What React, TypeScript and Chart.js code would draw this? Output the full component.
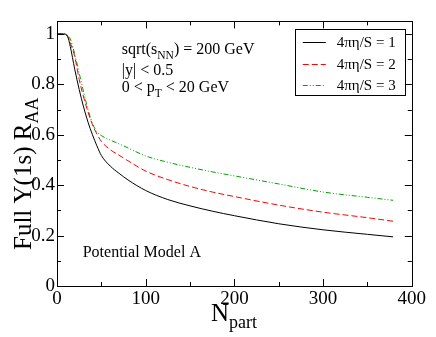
import React, { useEffect, useRef } from "react";
import { Chart, registerables } from "chart.js";

Chart.register(...registerables);

const nPart = [0, 5, 8, 12, 15, 20, 25, 30, 35, 40, 45, 50, 60, 70, 80, 100, 125, 150, 175, 200, 250, 300, 350, 379];
const raa1 = [1, 1, 1, 0.99, 0.95, 0.86, 0.78, 0.71, 0.65, 0.6, 0.556, 0.518, 0.476, 0.447, 0.421, 0.379, 0.343, 0.318, 0.297, 0.279, 0.247, 0.223, 0.205, 0.195];
const raa2 = [1, 1, 1, 0.99, 0.965, 0.91, 0.82, 0.75, 0.69, 0.64, 0.603, 0.574, 0.541, 0.519, 0.497, 0.456, 0.422, 0.395, 0.373, 0.355, 0.321, 0.293, 0.271, 0.257];
const raa3 = [1, 1, 1, 0.995, 0.98, 0.92, 0.845, 0.77, 0.7, 0.645, 0.612, 0.597, 0.579, 0.564, 0.548, 0.516, 0.491, 0.471, 0.453, 0.437, 0.405, 0.373, 0.352, 0.34];

const seriesLabels = ["4πη/S = 1", "4πη/S = 2", "4πη/S = 3"];
const xTicks = [0, 100, 200, 300, 400];
const yTicks = [0, 0.2, 0.4, 0.6, 0.8, 1];

// annotation text: segments [text, isSubscript], anchored at data coordinates
const annotations: { x: number; y: number; parts: [string, boolean][] }[] = [
  { x: 73, y: 0.919, parts: [["sqrt(s", false], ["NN", true], [") = 200 GeV", false]] },
  { x: 73, y: 0.836, parts: [["|y| < 0.5", false]] },
  { x: 73, y: 0.768, parts: [["0 < p", false], ["T", true], [" < 20 GeV", false]] },
  { x: 29, y: 0.115, parts: [["Potential Model A", false]] },
];

const FONT = "'Liberation Serif', 'Times New Roman', serif";

function drawRich(ctx: CanvasRenderingContext2D, x: number, y: number, parts: [string, boolean][], size: number) {
  let cx = x;
  ctx.textBaseline = "alphabetic";
  ctx.textAlign = "left";
  for (const [t, sub] of parts) {
    const s = sub ? size * 0.72 : size;
    ctx.font = `${s}px ${FONT}`;
    ctx.fillText(t, cx, sub ? y + size * 0.28 : y);
    cx += ctx.measureText(t).width;
  }
}

const framePlugin = {
  id: "frameTicks",
  afterDraw(chart: any) {
    const ctx: CanvasRenderingContext2D = chart.ctx;
    const { left, right, top, bottom } = chart.chartArea;
    const xs = chart.scales.x;
    const ys = chart.scales.y;
    ctx.save();
    ctx.strokeStyle = "#000";
    ctx.lineWidth = 1;
    ctx.setLineDash([]);
    ctx.strokeRect(Math.round(left) + 0.5, Math.round(top) + 0.5, Math.round(right - left), Math.round(bottom - top));
    ctx.beginPath();
    for (let v = 0; v <= 400; v += 50) {
      const px = Math.round(xs.getPixelForValue(v)) + 0.5;
      const len = v % 100 === 0 ? 7 : 4;
      ctx.moveTo(px, bottom);
      ctx.lineTo(px, bottom - len);
      ctx.moveTo(px, top);
      ctx.lineTo(px, top + len);
    }
    for (let i = 0; i <= 10; i++) {
      const v = i / 10;
      const py = Math.round(ys.getPixelForValue(v)) + 0.5;
      const len = i % 2 === 0 ? 7 : 4;
      ctx.moveTo(left, py);
      ctx.lineTo(left + len, py);
      ctx.moveTo(right, py);
      ctx.lineTo(right - len, py);
    }
    ctx.stroke();

    // annotations
    ctx.fillStyle = "#000";
    for (const a of annotations) {
      drawRich(ctx, xs.getPixelForValue(a.x), ys.getPixelForValue(a.y), a.parts, 16);
    }

    // legend
    const bw = 110, bh = 66;
    const bx = right - 7 - bw;
    const by = top + 8;
    ctx.fillStyle = "#fff";
    ctx.fillRect(bx, by, bw, bh);
    ctx.strokeStyle = "#000";
    ctx.lineWidth = 1;
    ctx.strokeRect(Math.round(bx) + 0.5, Math.round(by) + 0.5, bw, bh);
    chart.data.datasets.forEach((ds: any, i: number) => {
      const ry = by + 13 + i * 21.5;
      ctx.strokeStyle = ds.borderColor;
      ctx.lineWidth = 1;
      ctx.setLineDash(ds.borderDash || []);
      ctx.beginPath();
      ctx.moveTo(bx + 8, Math.round(ry) + 0.5);
      ctx.lineTo(bx + 31, Math.round(ry) + 0.5);
      ctx.stroke();
      ctx.setLineDash([]);
      ctx.fillStyle = "#000";
      ctx.font = `15px ${FONT}`;
      ctx.textBaseline = "middle";
      ctx.textAlign = "left";
      ctx.fillText(ds.label, bx + 42, ry + 1);
    });

    // axis titles
    ctx.fillStyle = "#000";
    drawRich(ctx, xs.getPixelForValue(0) + 154, bottom + 35, [["N", false], ["part", true]], 25);
    ctx.save();
    ctx.translate(23, bottom - 36);
    ctx.rotate(-Math.PI / 2);
    drawRich(ctx, 0, 0, [["Full Υ(1s) R", false], ["AA", true]], 25);
    ctx.restore();
    ctx.restore();
  },
};

export default function App() {
  const ref = useRef<HTMLCanvasElement>(null);
  useEffect(() => {
    if (!ref.current) return;
    const chart = new Chart(ref.current, {
      type: "line",
      data: {
        datasets: [
          { label: seriesLabels[0], data: nPart.map((x, i) => ({ x, y: raa1[i] })), borderColor: "#000000", borderWidth: 1, borderDash: [] },
          { label: seriesLabels[1], data: nPart.map((x, i) => ({ x, y: raa2[i] })), borderColor: "#ff0000", borderWidth: 1, borderDash: [6, 3] },
          { label: seriesLabels[2], data: nPart.map((x, i) => ({ x, y: raa3[i] })), borderColor: "#00a000", borderWidth: 1, borderDash: [5, 2, 1, 2, 1, 2] },
        ] as any,
      },
      options: {
        animation: false,
        responsive: false,
        layout: { padding: { top: 12, right: 14, left: 0, bottom: 0 } },
        elements: { point: { radius: 0 }, line: { cubicInterpolationMode: "monotone" } },
        plugins: { legend: { display: false }, tooltip: { enabled: false } },
        scales: {
          x: {
            type: "linear",
            min: 0,
            max: 400,
            afterBuildTicks: (s: any) => { s.ticks = xTicks.map((v) => ({ value: v })); },
            afterFit: (s: any) => { s.height = 51; },
            ticks: { color: "#000", font: { family: FONT, size: 19 }, padding: 2, maxRotation: 0, callback: (v: any) => String(v) },
            grid: { display: false, drawTicks: false },
            border: { display: false },
          },
          y: {
            type: "linear",
            min: 0,
            max: 1.05,
            afterBuildTicks: (s: any) => { s.ticks = yTicks.map((v) => ({ value: v })); },
            afterFit: (s: any) => { s.width = 49; },
            ticks: { color: "#000", font: { family: FONT, size: 19 }, padding: 2, callback: (v: any) => String(+Number(v).toFixed(1)) },
            grid: { display: false, drawTicks: false },
            border: { display: false },
          },
        },
      } as any,
      plugins: [framePlugin],
    });
    return () => chart.destroy();
  }, []);
  return (
    <div style={{ width: 420, height: 329 }}>
      <canvas ref={ref} width={420} height={329} style={{ display: "block" }} />
    </div>
  );
}
